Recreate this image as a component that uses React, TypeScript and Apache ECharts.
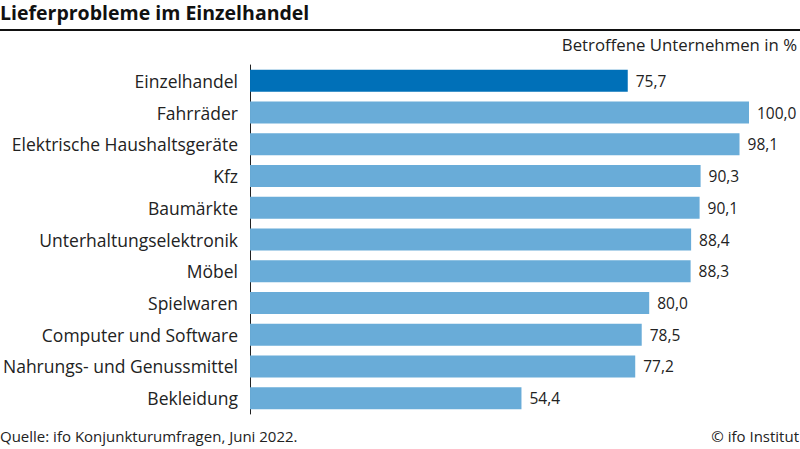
import React, { useEffect, useRef } from "react";
import * as echarts from "echarts";

const categories = [
  "Einzelhandel",
  "Fahrräder",
  "Elektrische Haushaltsgeräte",
  "Kfz",
  "Baumärkte",
  "Unterhaltungselektronik",
  "Möbel",
  "Spielwaren",
  "Computer und Software",
  "Nahrungs- und Genussmittel",
  "Bekleidung",
];
const values = [75.7, 100.0, 98.1, 90.3, 90.1, 88.4, 88.3, 80.0, 78.5, 77.2, 54.4];
const highlightIndex = 0;

const FONT = "'Open Sans', 'Noto Sans', sans-serif";

export default function App() {
  const ref = useRef<HTMLDivElement>(null);
  useEffect(() => {
    document.body.style.margin = "0";
    const chart = echarts.init(ref.current!, null, { renderer: "svg" });
    chart.setOption({
      animation: false,
      backgroundColor: "#ffffff",
      textStyle: { fontFamily: FONT },
      grid: { left: 250, right: 51, top: 65, bottom: 35, containLabel: false },
      xAxis: {
        type: "value",
        min: 0,
        max: 100,
        show: false,
      },
      yAxis: {
        type: "category",
        data: categories,
        inverse: true,
        axisLine: { show: true, lineStyle: { color: "#222", width: 1 } },
        axisTick: { show: false },
        axisLabel: { color: "#222", fontSize: 17.5, fontFamily: FONT, margin: 12 },
      },
      series: [
        {
          type: "bar",
          barWidth: 22,
          data: values.map((v, i) => ({
            value: v,
            itemStyle: { color: i === highlightIndex ? "#0070b8" : "#69acd8" },
          })),
          label: {
            show: true,
            position: "right",
            distance: 8,
            color: "#222",
            fontSize: 15.5,
            fontFamily: FONT,
            formatter: (p: any) => p.value.toFixed(1).replace(".", ","),
          },
        },
      ],
      graphic: [
        {
          type: "text",
          left: 0,
          top: 2,
          style: { text: "Lieferprobleme im Einzelhandel", font: `bold 19.5px ${FONT}`, fill: "#111" },
        },
        {
          type: "line",
          shape: { x1: 0, y1: 30, x2: 800, y2: 30 },
          style: { stroke: "#111", lineWidth: 2 },
        },
        {
          type: "text",
          right: 3,
          top: 36,
          style: { text: "Betroffene Unternehmen in %", font: `16.8px ${FONT}`, fill: "#222" },
        },
        {
          type: "text",
          left: 0,
          top: 428,
          style: { text: "Quelle: ifo Konjunkturumfragen, Juni 2022.", font: `15px ${FONT}`, fill: "#222" },
        },
        {
          type: "text",
          right: 1,
          top: 428,
          style: { text: "© ifo Institut", font: `15px ${FONT}`, fill: "#222" },
        },
      ],
    });
    return () => chart.dispose();
  }, []);
  return <div ref={ref} style={{ width: 800, height: 449 }} />;
}
